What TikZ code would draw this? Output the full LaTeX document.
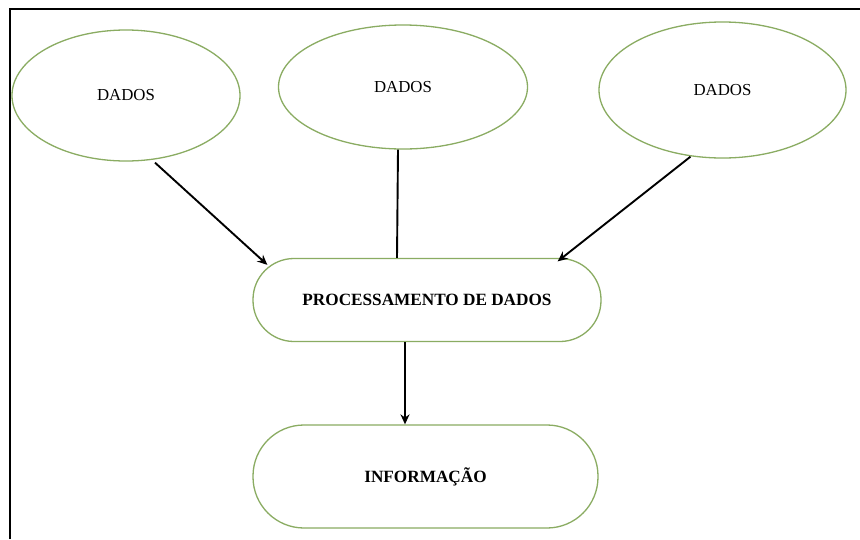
\documentclass[tikz,border=0pt]{standalone}
\usepackage{fontspec}
\setmainfont{Liberation Serif}
\usetikzlibrary{shapes.geometric,arrows.meta,calc}
\definecolor{lgreen}{RGB}{138,172,98}
\begin{document}
\begin{tikzpicture}[x=1pt,y=-1pt,
  dados/.style={ellipse,draw=lgreen,line width=1.3pt,inner sep=0pt,font=\fontsize{16.8}{19}\selectfont},
  stadium/.style={rectangle,draw=lgreen,line width=1.3pt,inner sep=0pt,font=\fontsize{17.2}{20}\selectfont\bfseries},
  conn/.style={line width=1.9pt,black},
  arr/.style={conn,-{Stealth[length=10pt,width=9pt]}}]
\useasboundingbox (0,0) rectangle (860,539);
\fill[white] (0,0) rectangle (860,539);
\draw[line width=2pt] (10,539) -- (10,9) -- (860,9);
\node[dados,minimum width=228pt,minimum height=131pt] (e1) at (126,95.5) {DADOS};
\node[dados,minimum width=249pt,minimum height=124pt] (e2) at (403,87) {DADOS};
\node[dados,minimum width=247pt,minimum height=136pt] (e3) at (722.5,90) {DADOS};
\node[stadium,minimum width=348pt,minimum height=83pt,rounded corners=41pt] (proc) at (427,300) {PROCESSAMENTO DE DADOS};
\node[stadium,minimum width=345pt,minimum height=103pt,rounded corners=51pt] (info) at (425.5,476.5) {INFORMAÇÃO};
\draw[arr] ($(e1.south)+(29,1)$) -- ($(proc.north west)+(15,7)$);
\draw[conn] ($(e2.south)+(-5,0)$) -- ($(proc.north)+(-30,0)$);
\draw[arr] ($(e3.south)+(-32,-2)$) -- ($(proc.north east)+(-44,3.5)$);
\draw[arr] ($(proc.south)+(-22,0)$) -- ($(info.north)+(-20.5,0)$);
\end{tikzpicture}
\end{document}
